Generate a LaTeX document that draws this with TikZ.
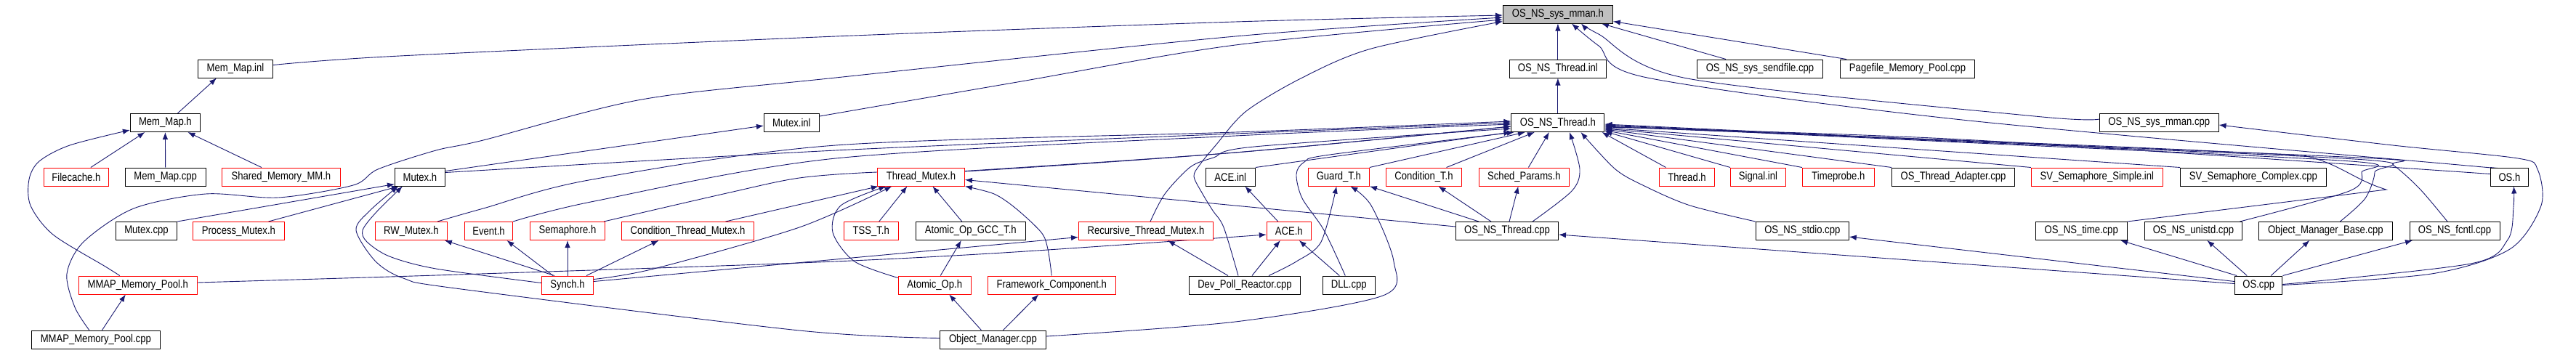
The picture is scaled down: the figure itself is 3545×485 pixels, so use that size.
\documentclass[tikz,border=0pt]{standalone}
\usepackage{fontspec}
\newfontfamily\graphfont{Liberation Sans}[FakeStretch=0.85]
\usetikzlibrary{positioning,arrows.meta,backgrounds}
\definecolor{edgeblue}{HTML}{191970}
\begin{document}
\begin{tikzpicture}[-{Latex[length=10pt,width=7.5pt]} ,x=1pt ,y=-1pt ,on grid ,
every edge/.append style ={edgeblue ,line width=0.9pt},
link/.style ={draw=edgeblue ,line width=0.9pt},
file/.style ={rectangle ,draw=black ,fill=white ,line width=1pt ,text=black ,
minimum height=25pt ,inner sep=0pt ,font=\graphfont\fontsize{15.4}{18}\selectfont},
redfile/.style ={file ,draw=red},
mainfile/.style ={file ,fill=gray!50}]
\useasboundingbox (0,0) rectangle (3545,485);
\node[mainfile ,minimum width=151pt] (sysmman) at (2143.9,19.5) {OS\_NS\_sys\_mman.h};

\node[file ,minimum width=103pt] (MemMapInl) at (324,94.5) {Mem\_Map.inl};
\node[file ,minimum width=133pt] (ThreadInl) [below=75pt of sysmman] {OS\_NS\_Thread.inl};
\node[file ,minimum width=173pt] (Sendfile) [right=278.1pt of ThreadInl] {OS\_NS\_sys\_sendfile.cpp};
\node[file ,minimum width=185pt] (Pagefile) [right=203pt of Sendfile] {Pagefile\_Memory\_Pool.cpp};

\node[file ,minimum width=96pt] (MemMapH) at (227.4,169) {Mem\_Map.h};
\node[file ,minimum width=76pt] (MutexInl) [right=862pt of MemMapH] {Mutex.inl};
\node[file ,minimum width=128pt] (ThreadH) [below=74.5pt of ThreadInl] {OS\_NS\_Thread.h};
\node[file ,minimum width=163.5pt] (MmanCpp) [right=827.4pt of ThreadH] {OS\_NS\_sys\_mman.cpp};

\node[redfile ,minimum width=89pt] (Filecache) at (104.9,243.5) {Filecache.h};
\node[file ,minimum width=111pt] (MemMapCpp) [right=122.8pt of Filecache] {Mem\_Map.cpp};
\node[redfile ,minimum width=163pt] (SharedMM) [right=159.2pt of MemMapCpp] {Shared\_Memory\_MM.h};
\node[file ,minimum width=69pt] (MutexH) [right=191pt of SharedMM] {Mutex.h};
\node[redfile ,minimum width=120pt] (ThreadMutex) [right=689.5pt of MutexH] {Thread\_Mutex.h};
\node[file ,minimum width=68pt] (AceInl) [right=425.9pt of ThreadMutex] {ACE.inl};
\node[redfile ,minimum width=84pt] (GuardT) [right=149pt of AceInl] {Guard\_T.h};
\node[redfile ,minimum width=104pt] (ConditionT) [right=117.2pt of GuardT] {Condition\_T.h};
\node[redfile ,minimum width=124pt] (SchedParams) [right=137.9pt of ConditionT] {Sched\_Params.h};
\node[redfile ,minimum width=76pt] (ThreadHdr) [right=224.1pt of SchedParams] {Thread.h};
\node[redfile ,minimum width=76pt] (SignalInl) [right=98pt of ThreadHdr] {Signal.inl};
\node[redfile ,minimum width=99pt] (Timeprobe) [right=110.4pt of SignalInl] {Timeprobe.h};
\node[file ,minimum width=169pt] (Adapter) [right=158.1pt of Timeprobe] {OS\_Thread\_Adapter.cpp};
\node[redfile ,minimum width=181pt] (SVSimple) [right=197.8pt of Adapter] {SV\_Semaphore\_Simple.inl};
\node[file ,minimum width=200.5pt] (SVComplex) [right=215pt of SVSimple] {SV\_Semaphore\_Complex.cpp};
\node[file ,minimum width=52pt] (OSh) [right=352.6pt of SVComplex] {OS.h};

\node[file ,minimum width=84pt] (MutexCpp) at (201.5,318) {Mutex.cpp};
\node[redfile ,minimum width=125.5pt] (ProcessMutex) [right=126.9pt of MutexCpp] {Process\_Mutex.h};
\node[redfile ,minimum width=99pt] (RWMutex) [right=237.5pt of ProcessMutex] {RW\_Mutex.h};
\node[redfile ,minimum width=66pt] (EventH) [right=106.6pt of RWMutex] {Event.h};
\node[redfile ,minimum width=103pt] (SemaphoreH) [right=108.5pt of EventH] {Semaphore.h};
\node[redfile ,minimum width=182pt] (CondThreadMutex) [right=165.5pt of SemaphoreH] {Condition\_Thread\_Mutex.h};
\node[redfile ,minimum width=75pt] (TSST) [right=252.2pt of CondThreadMutex] {TSS\_T.h};
\node[file ,minimum width=151pt] (AtomicGCC) [right=137.1pt of TSST] {Atomic\_Op\_GCC\_T.h};
\node[redfile ,minimum width=185pt] (Recursive) [right=241.2pt of AtomicGCC] {Recursive\_Thread\_Mutex.h};
\node[redfile ,minimum width=61pt] (AceH) [right=196.8pt of Recursive] {ACE.h};
\node[file ,minimum width=141pt] (ThreadCpp) [right=300.2pt of AceH] {OS\_NS\_Thread.cpp};
\node[file ,minimum width=128pt] (Stdio) [right=406.3pt of ThreadCpp] {OS\_NS\_stdio.cpp};
\node[file ,minimum width=126pt] (TimeCpp) [right=383.9pt of Stdio] {OS\_NS\_time.cpp};
\node[file ,minimum width=133.6pt] (Unistd) [right=154.2pt of TimeCpp] {OS\_NS\_unistd.cpp};
\node[file ,minimum width=184pt] (OMBase) [right=181.9pt of Unistd] {Object\_Manager\_Base.cpp};
\node[file ,minimum width=124pt] (Fcntl) [right=177.7pt of OMBase] {OS\_NS\_fcntl.cpp};

\node[redfile ,minimum width=163pt] (MMAPh) at (189.8,392.5) {MMAP\_Memory\_Pool.h};
\node[redfile ,minimum width=71.4pt] (Synch) [below=74.5pt of SemaphoreH] {Synch.h};
\node[redfile ,minimum width=100pt] (AtomicOp) [right=505.2pt of Synch] {Atomic\_Op.h};
\node[redfile ,minimum width=175.6pt] (Framework) [right=161.1pt of AtomicOp] {Framework\_Component.h};
\node[file ,minimum width=152.6pt] (DevPoll) [right=265.7pt of Framework] {Dev\_Poll\_Reactor.cpp};
\node[file ,minimum width=72pt] (DLL) [right=143.3pt of DevPoll] {DLL.cpp};
\node[file ,minimum width=65.4pt] (OScpp) [right=1251.9pt of DLL] {OS.cpp};

\node[file ,minimum width=177pt] (MMAPcpp) at (131.8,467.5) {MMAP\_Memory\_Pool.cpp};
\node[file ,minimum width=146pt] (OMcpp) [right=1234.6pt of MMAPcpp] {Object\_Manager.cpp};

\begin{scope}[on background layer]
\path (ThreadInl.north) edge (sysmman.south);
\path ([xshift=-47pt]Sendfile.north) edge ([xshift=-16pt]sysmman.south east);
\path ([xshift=-84pt]Pagefile.north) edge ([yshift=3pt]sysmman.south east);
\draw[link] plot[smooth ,tension=0.5] coordinates {([yshift=5pt]MemMapInl.east) (550,77) (1150,50) (1700,30) ([yshift=-1.5pt]sysmman.west)};
\draw[link] plot[smooth ,tension=0.5] coordinates {([xshift=-9pt]MMAPcpp.north) (103,423) (92,377) (115,333) (184,287) (283,267) (383,272) (486,255) (520,233) (600,207) (665,193) (883,137) (1150,107) (1700,50) ([yshift=-4.5pt]sysmman.west)};
\draw[link] plot[smooth ,tension=0.5] coordinates {([yshift=9pt]MutexInl.east) (1400,113) (1700,62) ([yshift=-7.5pt]sysmman.west)};
\draw[link] plot[smooth ,tension=0.5] coordinates {([xshift=-9pt]DevPoll.north) (1684,313) (1669,290) (1655,267) (1643,243) (1651,227) (1673,200) (1715,153) (1792,107) (1887,67) ([yshift=-10pt]sysmman.west)};
\draw[link] plot[smooth ,tension=0.5] coordinates {([yshift=5pt]MmanCpp.west) (2800,160) (2322,108) (2200,47) ([xshift=32pt]sysmman.south)};
\draw[link] plot[smooth ,tension=0.5] coordinates {(OSh.north west) (3395,228) (2700,165) (2267,107) (2200,63) ([xshift=19pt]sysmman.south)};

\path (ThreadH.north) edge (ThreadInl.south);
\path ([xshift=17pt]MemMapH.north) edge ([xshift=-26pt]MemMapInl.south);
\path ([xshift=20pt]Filecache.north) edge ([xshift=-28pt]MemMapH.south);
\path (MemMapCpp.north) edge (MemMapH.south);
\path ([xshift=-27pt]SharedMM.north) edge ([xshift=31pt]MemMapH.south);
\draw[link] plot[smooth ,tension=0.5] coordinates {([xshift=-25pt]MMAPh.north) (145,367) (73,323) (42,283) (40,247) (54,222) (96,200) ([yshift=-10pt]MemMapH.west)};
\path ([xshift=8.7pt]MMAPcpp.north) edge ([xshift=-17pt]MMAPh.south);

\draw[link] plot[smooth ,tension=0.5] coordinates {([yshift=3.5pt]MMAPh.east) (600,379) (1100,362) (1380,348) ([yshift=-5pt]AceH.west)};
\path ([xshift=10pt]DevPoll.north) edge ([xshift=-12pt]AceH.south);
\path ([xshift=-13pt]DLL.north) edge ([xshift=14pt]AceH.south);
\path ([xshift=-15pt]AceH.north) edge ([xshift=20pt]AceInl.south);
\path ([yshift=5pt]Synch.east) edge ([yshift=-8.5pt]Recursive.west);
\path ([xshift=-23pt]DevPoll.north) edge ([xshift=30pt]Recursive.south);

\draw[link] plot[smooth ,tension=0.5] coordinates {([xshift=33pt]DevPoll.north) (1784,360) (1818,333) ([xshift=-3pt]GuardT.south)};
\draw[link] plot[smooth ,tension=0.5] coordinates {([yshift=4.5pt]OMcpp.east) (1700,443) (1903,407) (1918,360) (1887,283) ([xshift=16pt]GuardT.south)};
\path ([xshift=-39pt]ThreadCpp.north) edge (GuardT.south east);
\path ([xshift=-22pt]ThreadCpp.north) edge ([xshift=20pt]ConditionT.south);
\path ([xshift=3pt]ThreadCpp.north) edge ([xshift=-8pt]SchedParams.south);

\path ([xshift=52pt]CondThreadMutex.north) edge ([xshift=2pt]ThreadMutex.south west);
\draw[link] plot[smooth ,tension=0.5] coordinates {([yshift=8pt]Synch.east) (900,370) (1100,313) ([xshift=-40pt]ThreadMutex.south)};
\path ([xshift=11pt]TSST.north) edge ([xshift=-19pt]ThreadMutex.south);
\path ([xshift=-12pt]AtomicGCC.north) edge ([xshift=16pt]ThreadMutex.south);
\draw[link] plot[smooth ,tension=0.5] coordinates {([yshift=-3pt]AtomicOp.north west) (1176,360) (1146,320) (1157,283) ([xshift=-48pt]ThreadMutex.south)};
\draw[link] plot[smooth ,tension=0.5] coordinates {(Framework.north) (1442,343) (1433,320) (1398,287) (1368,267) (ThreadMutex.south east)};
\path ([yshift=6pt]ThreadCpp.west) edge ([yshift=-4pt]ThreadMutex.east);
\path ([xshift=8pt]AtomicOp.north) edge ([xshift=-13pt]AtomicGCC.south);
\path ([xshift=-16pt]OMcpp.north) edge ([xshift=20pt]AtomicOp.south);
\path ([xshift=14pt]OMcpp.north) edge ([xshift=-18pt]Framework.south);

\path (MutexCpp.north east) edge ([yshift=3pt]MutexH.south west);
\path ([xshift=41pt]ProcessMutex.north) edge ([xshift=6pt]MutexH.south west);
\draw[link] plot[smooth ,tension=0.5] coordinates {([yshift=3pt]Synch.west) (600,370) (536,353) (505,333) (499,317) (517,293) ([xshift=-24pt]MutexH.south)};
\draw[link] plot[smooth ,tension=0.5] coordinates {([yshift=2pt]OMcpp.west) (1100,455) (627,397) (555,383) (517,360) (490,317) (509,290) ([xshift=-30pt]MutexH.south)};
\path ([yshift=8pt]MutexH.east) edge ([yshift=-4pt]MutexInl.west);
\path ([xshift=-18pt]Synch.north) edge ([xshift=-4pt]RWMutex.south east);
\path ([xshift=-20pt]Synch.north) edge ([xshift=25pt]EventH.south);
\path (Synch.north) edge (SemaphoreH.south);
\path ([xshift=26pt]Synch.north) edge ([xshift=-40pt]CondThreadMutex.south);

\draw[link] plot[smooth ,tension=0.5] coordinates {([xshift=36pt]RWMutex.north) (665,287) (810,248) (1150,200) (1700,182) ([yshift=2pt]ThreadH.west)};
\draw[link] plot[smooth ,tension=0.5] coordinates {([yshift=6pt]MutexH.east) (1150,207) (1700,184) (ThreadH.west)};
\draw[link] plot[smooth ,tension=0.5] coordinates {(EventH.north east) (818,277) (1150,218) (1700,187) ([yshift=-2pt]ThreadH.west)};
\draw[link] plot[smooth ,tension=0.5] coordinates {([xshift=50pt]SemaphoreH.north) (1000,266) (1100,245) (1207,237) (1327,236) (1700,210) ([yshift=-5pt]ThreadH.west)};
\draw[link] plot[smooth ,tension=0.5] coordinates {([yshift=8pt]ThreadMutex.east) (1700,210) ([yshift=-5pt]ThreadH.west)};
\draw[link] plot[smooth ,tension=0.5] coordinates {([xshift=6pt]Recursive.north) (1603,267) (1638,230) (1670,217) (1726,202) ([yshift=-8pt]ThreadH.west)};
\path (AceInl.north east) edge (ThreadH.south west);
\path (GuardT.north east) edge ([xshift=-45pt]ThreadH.south);
\path ([xshift=31pt]ConditionT.north) edge ([xshift=-32pt]ThreadH.south);
\path ([xshift=6pt]SchedParams.north) edge ([xshift=-12pt]ThreadH.south);
\draw[link] plot[smooth ,tension=0.5] coordinates {([xshift=35pt]ThreadCpp.north) (2163,263) (2174,233) ([xshift=16pt]ThreadH.south)};
\draw[link] plot[smooth ,tension=0.5] coordinates {([xshift=-5pt]DLL.north) (1822,317) (1792,273) (1784,240) (1795,223) (1830,213) ([xshift=-60pt]ThreadH.south)};

\path ([xshift=-29pt]ThreadHdr.north) edge ([xshift=-4pt]ThreadH.south east);
\path (SignalInl.north west) edge ([yshift=1pt]ThreadH.south east);
\path (Timeprobe.north west) edge ([yshift=2.5pt]ThreadH.south east);
\path (Adapter.north west) edge ([yshift=4pt]ThreadH.south east);
\path (SVSimple.north west) edge ([yshift=5pt]ThreadH.south east);
\path (SVComplex.north west) edge ([yshift=6pt]ThreadH.south east);
\draw[link] plot[smooth ,tension=0.5] coordinates {([yshift=4pt]OSh.west) (2700,192) ([yshift=7pt]ThreadH.south east)};
\draw[link] plot[smooth ,tension=0.5] coordinates {(Stdio.north west) (2326,283) (2265,257) (2223,233) ([xshift=-33pt]ThreadH.south east)};
\draw[link] (TimeCpp.north east) -- (3284,261) .. controls (3240,248) and (3220,225) .. (3170,214) .. controls (2800,195) and (2400,183) .. ([yshift=8pt]ThreadH.south east);
\draw[link] plot[smooth ,tension=0.5] coordinates {([xshift=64pt]Unistd.north) (3233,263) (3250,237) (3235,222) (2700,196) ([yshift=9pt]ThreadH.south east)};
\draw[link] plot[smooth ,tension=0.5] coordinates {([xshift=20pt]OMBase.north) (3255,273) (3268,237) (3255,220) (2700,195) ([yshift=10pt]ThreadH.south east)};
\draw[link] plot[smooth ,tension=0.5] coordinates {([xshift=-10pt]Fcntl.north) (3330,260) (3293,227) (3266,218) (2700,194) ([yshift=11pt]ThreadH.south east)};

\path ([yshift=2pt]OScpp.west) edge ([yshift=-5pt]ThreadCpp.east);
\path ([yshift=5pt]OScpp.west) edge ([yshift=-8pt]Stdio.east);
\path ([xshift=-30pt]OScpp.north) edge ([xshift=54pt]TimeCpp.south);
\path ([xshift=-16pt]OScpp.north) edge ([xshift=19pt]Unistd.south);
\path ([xshift=17pt]OScpp.north) edge ([xshift=-22pt]OMBase.south);
\path (OScpp.north east) edge ([xshift=-58pt]Fcntl.south);
\draw[link] plot[smooth ,tension=0.5] coordinates {([yshift=1pt]OScpp.east) (3400,363) (3451,330) (3459,285) ([xshift=6pt]OSh.south)};
\draw[link] plot[smooth ,tension=0.5] coordinates {(OScpp.east) (3346,377) (3454,343) (3497,283) (3492,233) (3465,218) (3293,200) ([yshift=-3pt]MmanCpp.east)};
\end{scope}
\end{tikzpicture}
\end{document}
